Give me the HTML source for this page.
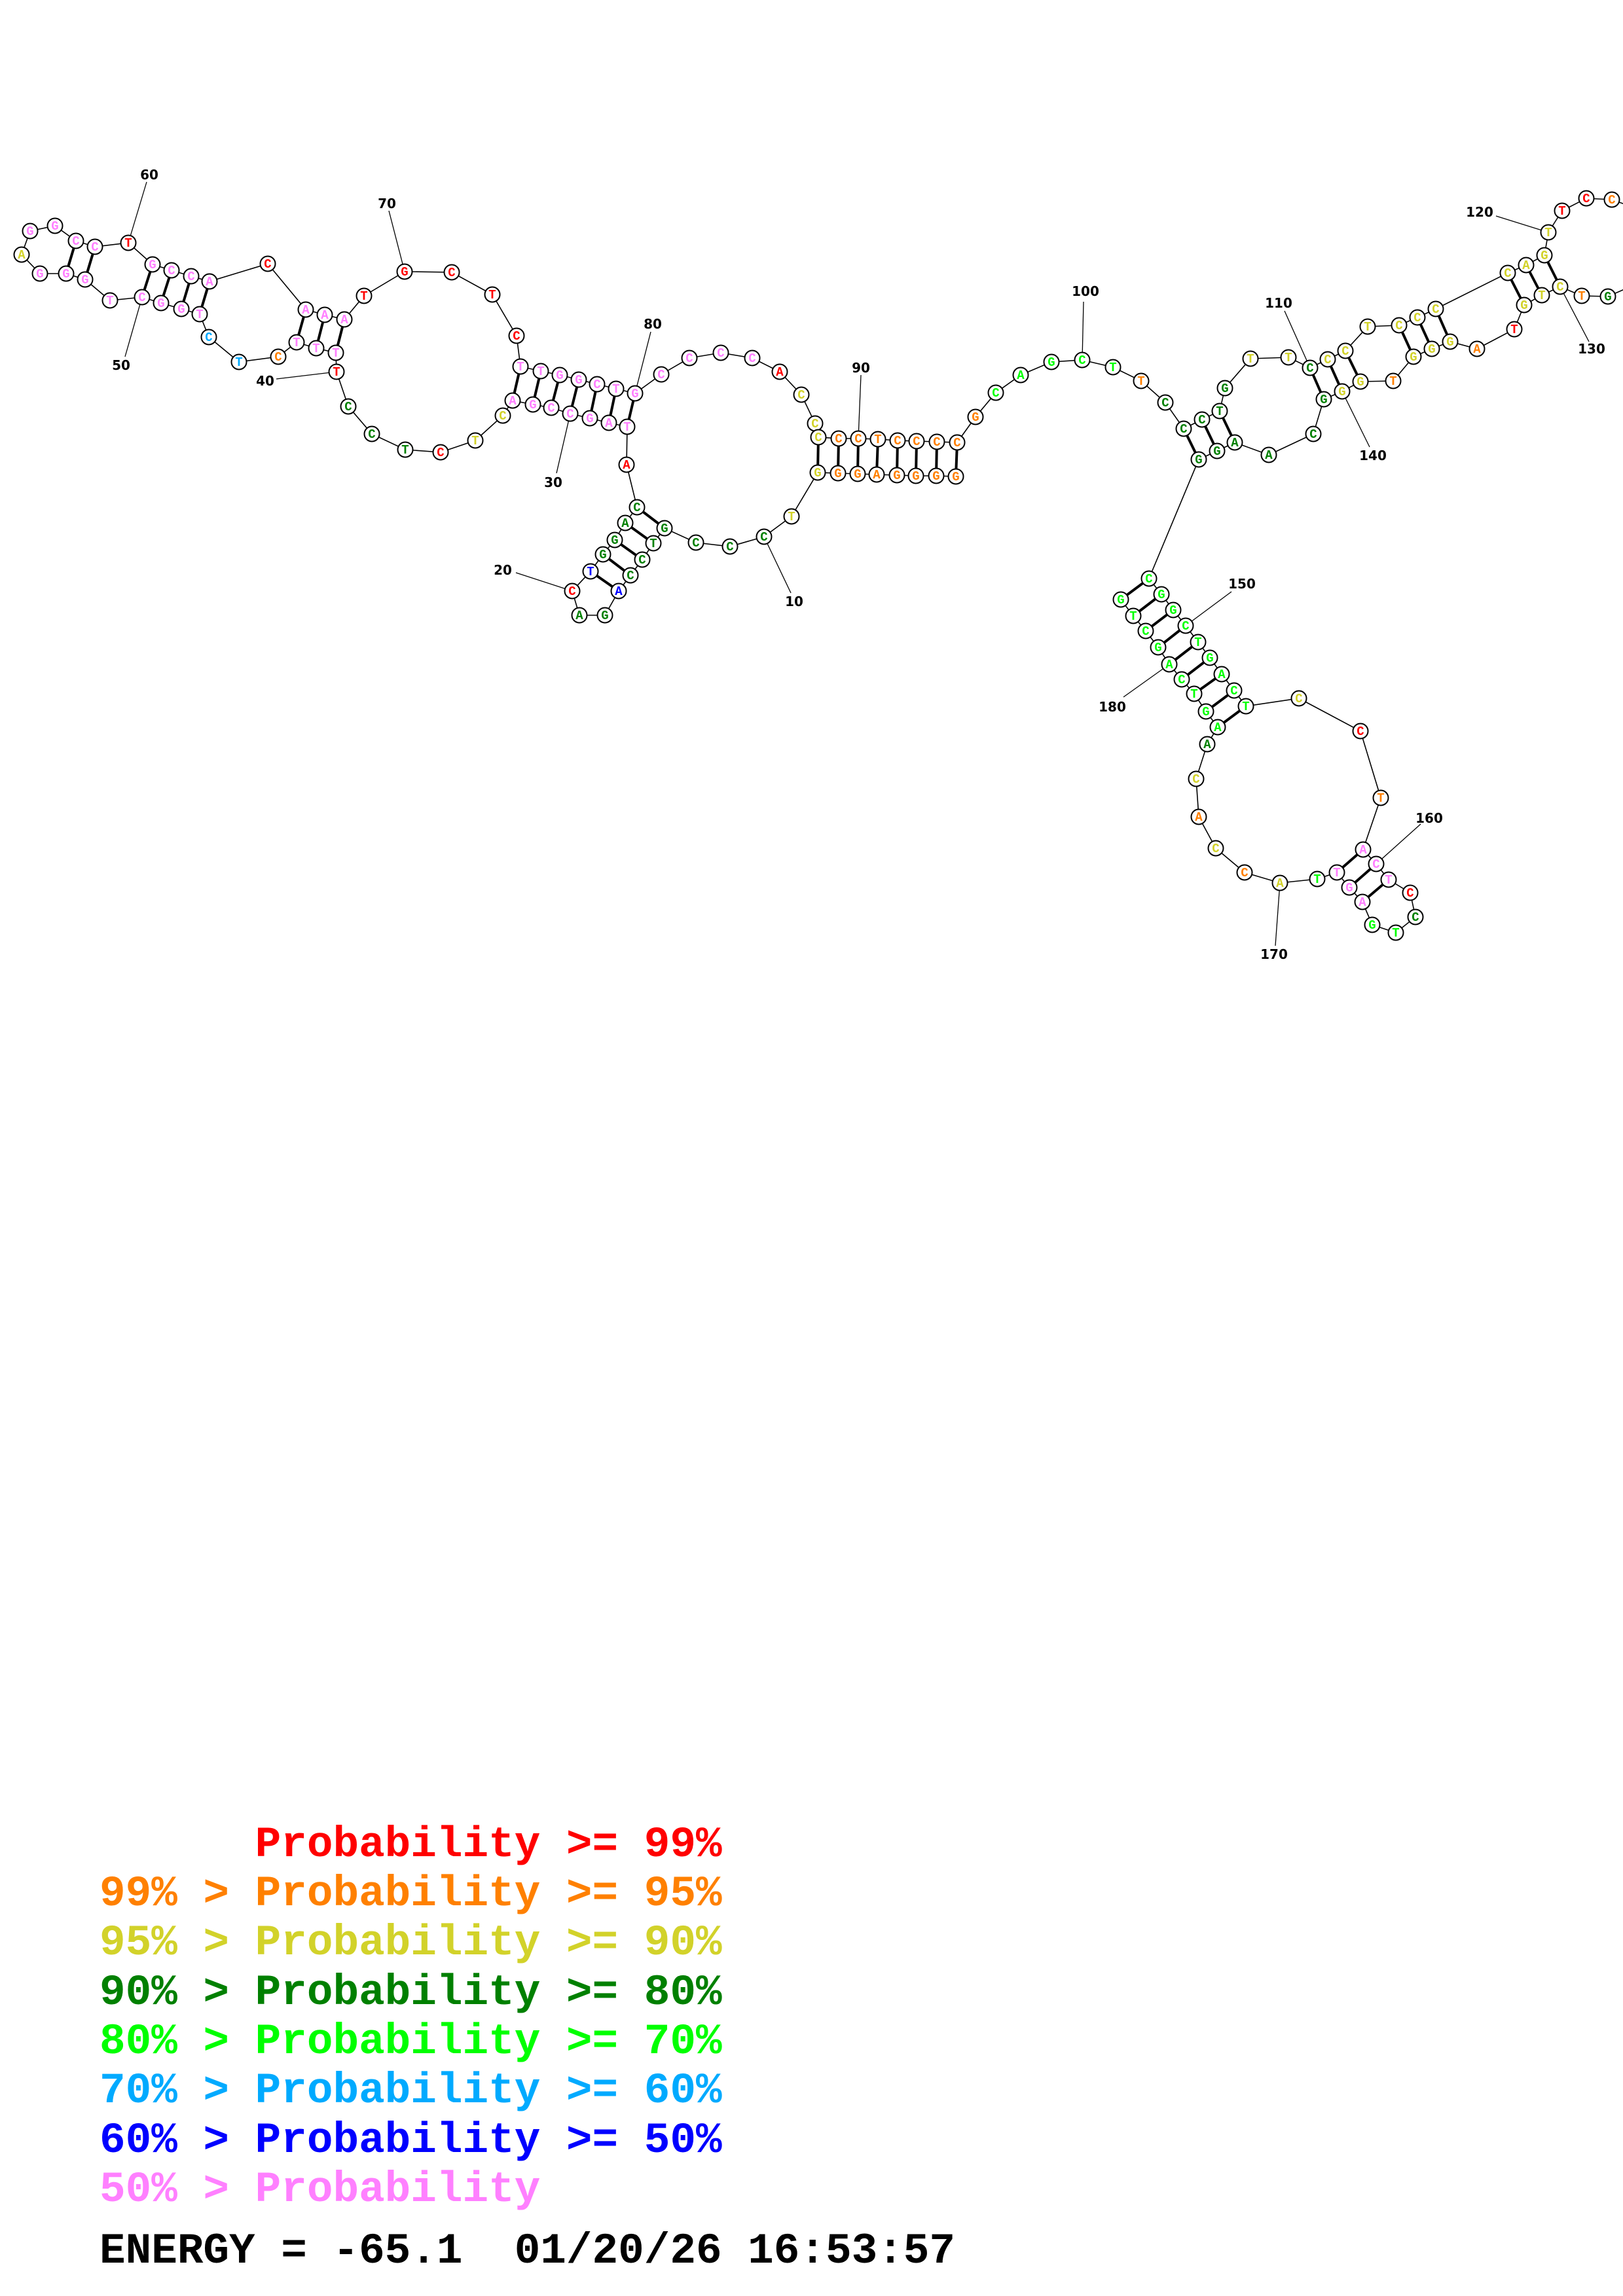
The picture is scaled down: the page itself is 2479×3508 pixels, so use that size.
<!DOCTYPE html>
<html><head><meta charset="utf-8"><style>
html,body{margin:0;padding:0;background:#fff;}
svg{display:block;}
.bb{fill:none;stroke:#000;stroke-width:1.6}
.pr line{stroke:#000;stroke-width:4}
.nd circle{fill:#fff;stroke:#000;stroke-width:2}
.nd text{font-family:"Liberation Mono",monospace;font-weight:bold;font-size:19px;text-anchor:middle}
.lb{font-family:"DejaVu Sans","Liberation Sans",sans-serif;font-weight:bold;font-size:20px;text-anchor:middle}
.ll{stroke:#000;stroke-width:1.3}
.o{fill:#ff8000}.y{fill:#d2d22a}.k{fill:#008000}.g{fill:#00ff00}.r{fill:#ff0000}.b{fill:#0000ff}.c{fill:#00aaff}.p{fill:#ff80ff}
.leg{font-family:"Liberation Mono",monospace;font-weight:bold;font-size:66px;white-space:pre}
</style></head><body>
<svg width="2479" height="3508" viewBox="0 0 2479 3508" xmlns="http://www.w3.org/2000/svg">
<polyline class="bb" points="1460,728 1430,727 1399,727 1370,726 1339,725 1310,724 1280,723 1249,722 1209,789 1167,820 1115,835 1063,829 1015,807 998,830 981,855 963,879 945,903 924,940 885,940 874,903 902,873 921,847 939,825 955,799 973,775 957,710 958,652 930,646 901,639 871,632 842,623 814,618 783,612 768,635 726,673 673,691 619,687 568,663 532,621 514,568 513,539 483,532 453,523 425,545 365,553 319,515 305,480 277,472 246,463 217,454 168,459 130,427 101,418 61,418 33,389 46,353 84,345 116,368 145,377 196,371 233,404 262,413 292,422 320,430 409,403 467,473 496,481 526,488 556,452 618,415 690,416 752,450 789,513 795,560 826,567 855,573 884,580 912,587 941,594 970,601 1010,572 1053,547 1101,539 1149,547 1191,568 1224,603 1245,647 1250,668 1281,670 1311,670 1341,671 1371,673 1400,674 1431,675 1462,676 1490,637 1521,600 1559,573 1606,553 1653,550 1700,561 1743,582 1780,615 1808,655 1836,641 1863,628 1871,593 1910,548 1968,546 2001,562 2028,549 2055,536 2089,499 2137,497 2165,485 2193,472 2303,417 2331,405 2359,390 2365,355 2386,322 2423,303 2462,305 2490,315"/>
<polyline class="bb" points="2490,438 2456,453 2416,452 2383,438 2355,451 2328,466 2313,503 2256,533 2215,522 2187,533 2159,545 2128,582 2078,583 2050,598 2022,610 2006,663 1938,695 1886,676 1859,689 1831,702 1755,884 1774,908 1792,932 1811,956 1830,981 1848,1005 1866,1030 1885,1055 1903,1079 1984,1067 2078,1117 2109,1219 2082,1298 2102,1320 2121,1344 2154,1364 2162,1401 2132,1425 2096,1413 2081,1378 2061,1356 2042,1333 2012,1343 1955,1349 1901,1333 1857,1296 1831,1248 1827,1190 1844,1137 1860,1111 1842,1087 1824,1060 1805,1038 1786,1015 1769,989 1750,964 1731,941 1712,916"/>
<g class="pr">
<line x1="1015" y1="807" x2="973" y2="775"/><line x1="998" y1="830" x2="955" y2="799"/><line x1="981" y1="855" x2="939" y2="825"/><line x1="963" y1="879" x2="921" y2="847"/><line x1="945" y1="903" x2="902" y2="873"/>
<line x1="958" y1="652" x2="970" y2="601"/><line x1="930" y1="646" x2="941" y2="594"/><line x1="901" y1="639" x2="912" y2="587"/><line x1="871" y1="632" x2="884" y2="580"/><line x1="842" y1="623" x2="855" y2="573"/><line x1="814" y1="618" x2="826" y2="567"/><line x1="783" y1="612" x2="795" y2="560"/>
<line x1="1460" y1="728" x2="1462" y2="676"/><line x1="1430" y1="727" x2="1431" y2="675"/><line x1="1399" y1="727" x2="1400" y2="674"/><line x1="1370" y1="726" x2="1371" y2="673"/><line x1="1339" y1="725" x2="1341" y2="671"/><line x1="1310" y1="724" x2="1311" y2="670"/><line x1="1280" y1="723" x2="1281" y2="670"/><line x1="1249" y1="722" x2="1250" y2="668"/>
<line x1="513" y1="539" x2="526" y2="488"/><line x1="483" y1="532" x2="496" y2="481"/><line x1="453" y1="523" x2="467" y2="473"/>
<line x1="305" y1="480" x2="320" y2="430"/><line x1="277" y1="472" x2="292" y2="422"/><line x1="246" y1="463" x2="262" y2="413"/><line x1="217" y1="454" x2="233" y2="404"/>
<line x1="130" y1="427" x2="145" y2="377"/><line x1="101" y1="418" x2="116" y2="368"/>
<line x1="1808" y1="655" x2="1831" y2="702"/><line x1="1836" y1="641" x2="1859" y2="689"/><line x1="1863" y1="628" x2="1886" y2="676"/>
<line x1="2001" y1="562" x2="2022" y2="610"/><line x1="2028" y1="549" x2="2050" y2="598"/><line x1="2055" y1="536" x2="2078" y2="583"/>
<line x1="2137" y1="497" x2="2159" y2="545"/><line x1="2165" y1="485" x2="2187" y2="533"/><line x1="2193" y1="472" x2="2215" y2="522"/>
<line x1="2303" y1="417" x2="2328" y2="466"/><line x1="2331" y1="405" x2="2355" y2="451"/><line x1="2359" y1="390" x2="2383" y2="438"/>
<line x1="1755" y1="884" x2="1712" y2="916"/><line x1="1774" y1="908" x2="1731" y2="941"/><line x1="1792" y1="932" x2="1750" y2="964"/><line x1="1811" y1="956" x2="1769" y2="989"/><line x1="1830" y1="981" x2="1786" y2="1015"/><line x1="1848" y1="1005" x2="1805" y2="1038"/><line x1="1866" y1="1030" x2="1824" y2="1060"/><line x1="1885" y1="1055" x2="1842" y2="1087"/><line x1="1903" y1="1079" x2="1860" y2="1111"/>
<line x1="2082" y1="1298" x2="2042" y2="1333"/><line x1="2102" y1="1320" x2="2061" y2="1356"/><line x1="2121" y1="1344" x2="2081" y2="1378"/>
</g>
<g>
<line class="ll" x1="1208" y1="906" x2="1167" y2="820"/><line class="ll" x1="788" y1="875" x2="874" y2="903"/><line class="ll" x1="850" y1="723" x2="871" y2="632"/><line class="ll" x1="422" y1="579" x2="514" y2="568"/><line class="ll" x1="191" y1="545" x2="217" y2="454"/><line class="ll" x1="224" y1="278" x2="196" y2="371"/><line class="ll" x1="594" y1="322" x2="618" y2="415"/><line class="ll" x1="994" y1="507" x2="970" y2="601"/><line class="ll" x1="1315" y1="573" x2="1311" y2="670"/><line class="ll" x1="1655" y1="461" x2="1653" y2="550"/><line class="ll" x1="1962" y1="475" x2="2001" y2="562"/><line class="ll" x1="2285" y1="330" x2="2365" y2="355"/><line class="ll" x1="2427" y1="522" x2="2383" y2="438"/><line class="ll" x1="2092" y1="683" x2="2050" y2="598"/><line class="ll" x1="1881" y1="904" x2="1811" y2="956"/><line class="ll" x1="2170" y1="1259" x2="2102" y2="1320"/><line class="ll" x1="1948" y1="1445" x2="1955" y2="1349"/><line class="ll" x1="1716" y1="1065" x2="1786" y2="1015"/>
</g>
<g>
<text class="lb" x="1213" y="926">10</text><text class="lb" x="768" y="878">20</text><text class="lb" x="845" y="744">30</text><text class="lb" x="405" y="589">40</text><text class="lb" x="185" y="565">50</text><text class="lb" x="228" y="274">60</text><text class="lb" x="591" y="318">70</text><text class="lb" x="997" y="502">80</text><text class="lb" x="1315" y="569">90</text><text class="lb" x="1658" y="452">100</text><text class="lb" x="1953" y="470">110</text><text class="lb" x="2260" y="331">120</text><text class="lb" x="2431" y="540">130</text><text class="lb" x="2097" y="703">140</text><text class="lb" x="1897" y="899">150</text><text class="lb" x="2183" y="1257">160</text><text class="lb" x="1946" y="1465">170</text><text class="lb" x="1699" y="1087">180</text>
</g>
<g class="nd">
<circle cx="1460" cy="728" r="11.5"/><text x="1460" y="734" class="o">G</text>
<circle cx="1430" cy="727" r="11.5"/><text x="1430" y="733" class="o">G</text>
<circle cx="1399" cy="727" r="11.5"/><text x="1399" y="733" class="o">G</text>
<circle cx="1370" cy="726" r="11.5"/><text x="1370" y="732" class="o">G</text>
<circle cx="1339" cy="725" r="11.5"/><text x="1339" y="731" class="o">A</text>
<circle cx="1310" cy="724" r="11.5"/><text x="1310" y="730" class="o">G</text>
<circle cx="1280" cy="723" r="11.5"/><text x="1280" y="729" class="o">G</text>
<circle cx="1249" cy="722" r="11.5"/><text x="1249" y="728" class="y">G</text>
<circle cx="1209" cy="789" r="11.5"/><text x="1209" y="795" class="y">T</text>
<circle cx="1167" cy="820" r="11.5"/><text x="1167" y="826" class="k">C</text>
<circle cx="1115" cy="835" r="11.5"/><text x="1115" y="841" class="k">C</text>
<circle cx="1063" cy="829" r="11.5"/><text x="1063" y="835" class="k">C</text>
<circle cx="1015" cy="807" r="11.5"/><text x="1015" y="813" class="k">G</text>
<circle cx="998" cy="830" r="11.5"/><text x="998" y="836" class="k">T</text>
<circle cx="981" cy="855" r="11.5"/><text x="981" y="861" class="k">C</text>
<circle cx="963" cy="879" r="11.5"/><text x="963" y="885" class="k">C</text>
<circle cx="945" cy="903" r="11.5"/><text x="945" y="909" class="b">A</text>
<circle cx="924" cy="940" r="11.5"/><text x="924" y="946" class="k">G</text>
<circle cx="885" cy="940" r="11.5"/><text x="885" y="946" class="k">A</text>
<circle cx="874" cy="903" r="11.5"/><text x="874" y="909" class="r">C</text>
<circle cx="902" cy="873" r="11.5"/><text x="902" y="879" class="b">T</text>
<circle cx="921" cy="847" r="11.5"/><text x="921" y="853" class="k">G</text>
<circle cx="939" cy="825" r="11.5"/><text x="939" y="831" class="k">G</text>
<circle cx="955" cy="799" r="11.5"/><text x="955" y="805" class="k">A</text>
<circle cx="973" cy="775" r="11.5"/><text x="973" y="781" class="k">C</text>
<circle cx="957" cy="710" r="11.5"/><text x="957" y="716" class="r">A</text>
<circle cx="958" cy="652" r="11.5"/><text x="958" y="658" class="p">T</text>
<circle cx="930" cy="646" r="11.5"/><text x="930" y="652" class="p">A</text>
<circle cx="901" cy="639" r="11.5"/><text x="901" y="645" class="p">G</text>
<circle cx="871" cy="632" r="11.5"/><text x="871" y="638" class="p">C</text>
<circle cx="842" cy="623" r="11.5"/><text x="842" y="629" class="p">C</text>
<circle cx="814" cy="618" r="11.5"/><text x="814" y="624" class="p">G</text>
<circle cx="783" cy="612" r="11.5"/><text x="783" y="618" class="p">A</text>
<circle cx="768" cy="635" r="11.5"/><text x="768" y="641" class="y">C</text>
<circle cx="726" cy="673" r="11.5"/><text x="726" y="679" class="y">T</text>
<circle cx="673" cy="691" r="11.5"/><text x="673" y="697" class="r">C</text>
<circle cx="619" cy="687" r="11.5"/><text x="619" y="693" class="k">T</text>
<circle cx="568" cy="663" r="11.5"/><text x="568" y="669" class="k">C</text>
<circle cx="532" cy="621" r="11.5"/><text x="532" y="627" class="k">C</text>
<circle cx="514" cy="568" r="11.5"/><text x="514" y="574" class="r">T</text>
<circle cx="513" cy="539" r="11.5"/><text x="513" y="545" class="p">T</text>
<circle cx="483" cy="532" r="11.5"/><text x="483" y="538" class="p">T</text>
<circle cx="453" cy="523" r="11.5"/><text x="453" y="529" class="p">T</text>
<circle cx="425" cy="545" r="11.5"/><text x="425" y="551" class="o">C</text>
<circle cx="365" cy="553" r="11.5"/><text x="365" y="559" class="c">T</text>
<circle cx="319" cy="515" r="11.5"/><text x="319" y="521" class="c">C</text>
<circle cx="305" cy="480" r="11.5"/><text x="305" y="486" class="p">T</text>
<circle cx="277" cy="472" r="11.5"/><text x="277" y="478" class="p">G</text>
<circle cx="246" cy="463" r="11.5"/><text x="246" y="469" class="p">G</text>
<circle cx="217" cy="454" r="11.5"/><text x="217" y="460" class="p">C</text>
<circle cx="168" cy="459" r="11.5"/><text x="168" y="465" class="p">T</text>
<circle cx="130" cy="427" r="11.5"/><text x="130" y="433" class="p">G</text>
<circle cx="101" cy="418" r="11.5"/><text x="101" y="424" class="p">G</text>
<circle cx="61" cy="418" r="11.5"/><text x="61" y="424" class="p">G</text>
<circle cx="33" cy="389" r="11.5"/><text x="33" y="395" class="y">A</text>
<circle cx="46" cy="353" r="11.5"/><text x="46" y="359" class="p">G</text>
<circle cx="84" cy="345" r="11.5"/><text x="84" y="351" class="p">G</text>
<circle cx="116" cy="368" r="11.5"/><text x="116" y="374" class="p">C</text>
<circle cx="145" cy="377" r="11.5"/><text x="145" y="383" class="p">C</text>
<circle cx="196" cy="371" r="11.5"/><text x="196" y="377" class="r">T</text>
<circle cx="233" cy="404" r="11.5"/><text x="233" y="410" class="p">G</text>
<circle cx="262" cy="413" r="11.5"/><text x="262" y="419" class="p">C</text>
<circle cx="292" cy="422" r="11.5"/><text x="292" y="428" class="p">C</text>
<circle cx="320" cy="430" r="11.5"/><text x="320" y="436" class="p">A</text>
<circle cx="409" cy="403" r="11.5"/><text x="409" y="409" class="r">C</text>
<circle cx="467" cy="473" r="11.5"/><text x="467" y="479" class="p">A</text>
<circle cx="496" cy="481" r="11.5"/><text x="496" y="487" class="p">A</text>
<circle cx="526" cy="488" r="11.5"/><text x="526" y="494" class="p">A</text>
<circle cx="556" cy="452" r="11.5"/><text x="556" y="458" class="r">T</text>
<circle cx="618" cy="415" r="11.5"/><text x="618" y="421" class="r">G</text>
<circle cx="690" cy="416" r="11.5"/><text x="690" y="422" class="r">C</text>
<circle cx="752" cy="450" r="11.5"/><text x="752" y="456" class="r">T</text>
<circle cx="789" cy="513" r="11.5"/><text x="789" y="519" class="r">C</text>
<circle cx="795" cy="560" r="11.5"/><text x="795" y="566" class="p">T</text>
<circle cx="826" cy="567" r="11.5"/><text x="826" y="573" class="p">T</text>
<circle cx="855" cy="573" r="11.5"/><text x="855" y="579" class="p">G</text>
<circle cx="884" cy="580" r="11.5"/><text x="884" y="586" class="p">G</text>
<circle cx="912" cy="587" r="11.5"/><text x="912" y="593" class="p">C</text>
<circle cx="941" cy="594" r="11.5"/><text x="941" y="600" class="p">T</text>
<circle cx="970" cy="601" r="11.5"/><text x="970" y="607" class="p">G</text>
<circle cx="1010" cy="572" r="11.5"/><text x="1010" y="578" class="p">C</text>
<circle cx="1053" cy="547" r="11.5"/><text x="1053" y="553" class="p">C</text>
<circle cx="1101" cy="539" r="11.5"/><text x="1101" y="545" class="p">C</text>
<circle cx="1149" cy="547" r="11.5"/><text x="1149" y="553" class="p">C</text>
<circle cx="1191" cy="568" r="11.5"/><text x="1191" y="574" class="r">A</text>
<circle cx="1224" cy="603" r="11.5"/><text x="1224" y="609" class="y">C</text>
<circle cx="1245" cy="647" r="11.5"/><text x="1245" y="653" class="y">C</text>
<circle cx="1250" cy="668" r="11.5"/><text x="1250" y="674" class="y">C</text>
<circle cx="1281" cy="670" r="11.5"/><text x="1281" y="676" class="o">C</text>
<circle cx="1311" cy="670" r="11.5"/><text x="1311" y="676" class="o">C</text>
<circle cx="1341" cy="671" r="11.5"/><text x="1341" y="677" class="o">T</text>
<circle cx="1371" cy="673" r="11.5"/><text x="1371" y="679" class="o">C</text>
<circle cx="1400" cy="674" r="11.5"/><text x="1400" y="680" class="o">C</text>
<circle cx="1431" cy="675" r="11.5"/><text x="1431" y="681" class="o">C</text>
<circle cx="1462" cy="676" r="11.5"/><text x="1462" y="682" class="o">C</text>
<circle cx="1490" cy="637" r="11.5"/><text x="1490" y="643" class="o">G</text>
<circle cx="1521" cy="600" r="11.5"/><text x="1521" y="606" class="g">C</text>
<circle cx="1559" cy="573" r="11.5"/><text x="1559" y="579" class="g">A</text>
<circle cx="1606" cy="553" r="11.5"/><text x="1606" y="559" class="g">G</text>
<circle cx="1653" cy="550" r="11.5"/><text x="1653" y="556" class="g">C</text>
<circle cx="1700" cy="561" r="11.5"/><text x="1700" y="567" class="g">T</text>
<circle cx="1743" cy="582" r="11.5"/><text x="1743" y="588" class="o">T</text>
<circle cx="1780" cy="615" r="11.5"/><text x="1780" y="621" class="k">C</text>
<circle cx="1808" cy="655" r="11.5"/><text x="1808" y="661" class="k">C</text>
<circle cx="1836" cy="641" r="11.5"/><text x="1836" y="647" class="k">C</text>
<circle cx="1863" cy="628" r="11.5"/><text x="1863" y="634" class="k">T</text>
<circle cx="1871" cy="593" r="11.5"/><text x="1871" y="599" class="k">G</text>
<circle cx="1910" cy="548" r="11.5"/><text x="1910" y="554" class="y">T</text>
<circle cx="1968" cy="546" r="11.5"/><text x="1968" y="552" class="y">T</text>
<circle cx="2001" cy="562" r="11.5"/><text x="2001" y="568" class="k">C</text>
<circle cx="2028" cy="549" r="11.5"/><text x="2028" y="555" class="y">C</text>
<circle cx="2055" cy="536" r="11.5"/><text x="2055" y="542" class="y">C</text>
<circle cx="2089" cy="499" r="11.5"/><text x="2089" y="505" class="y">T</text>
<circle cx="2137" cy="497" r="11.5"/><text x="2137" y="503" class="y">C</text>
<circle cx="2165" cy="485" r="11.5"/><text x="2165" y="491" class="y">C</text>
<circle cx="2193" cy="472" r="11.5"/><text x="2193" y="478" class="y">C</text>
<circle cx="2303" cy="417" r="11.5"/><text x="2303" y="423" class="y">C</text>
<circle cx="2331" cy="405" r="11.5"/><text x="2331" y="411" class="y">A</text>
<circle cx="2359" cy="390" r="11.5"/><text x="2359" y="396" class="y">G</text>
<circle cx="2365" cy="355" r="11.5"/><text x="2365" y="361" class="y">T</text>
<circle cx="2386" cy="322" r="11.5"/><text x="2386" y="328" class="r">T</text>
<circle cx="2423" cy="303" r="11.5"/><text x="2423" y="309" class="r">C</text>
<circle cx="2462" cy="305" r="11.5"/><text x="2462" y="311" class="o">C</text>
<circle cx="2456" cy="453" r="11.5"/><text x="2456" y="459" class="k">G</text>
<circle cx="2416" cy="452" r="11.5"/><text x="2416" y="458" class="o">T</text>
<circle cx="2383" cy="438" r="11.5"/><text x="2383" y="444" class="y">C</text>
<circle cx="2355" cy="451" r="11.5"/><text x="2355" y="457" class="y">T</text>
<circle cx="2328" cy="466" r="11.5"/><text x="2328" y="472" class="y">G</text>
<circle cx="2313" cy="503" r="11.5"/><text x="2313" y="509" class="r">T</text>
<circle cx="2256" cy="533" r="11.5"/><text x="2256" y="539" class="o">A</text>
<circle cx="2215" cy="522" r="11.5"/><text x="2215" y="528" class="y">G</text>
<circle cx="2187" cy="533" r="11.5"/><text x="2187" y="539" class="y">G</text>
<circle cx="2159" cy="545" r="11.5"/><text x="2159" y="551" class="y">G</text>
<circle cx="2128" cy="582" r="11.5"/><text x="2128" y="588" class="o">T</text>
<circle cx="2078" cy="583" r="11.5"/><text x="2078" y="589" class="y">G</text>
<circle cx="2050" cy="598" r="11.5"/><text x="2050" y="604" class="y">G</text>
<circle cx="2022" cy="610" r="11.5"/><text x="2022" y="616" class="k">G</text>
<circle cx="2006" cy="663" r="11.5"/><text x="2006" y="669" class="k">C</text>
<circle cx="1938" cy="695" r="11.5"/><text x="1938" y="701" class="k">A</text>
<circle cx="1886" cy="676" r="11.5"/><text x="1886" y="682" class="k">A</text>
<circle cx="1859" cy="689" r="11.5"/><text x="1859" y="695" class="k">G</text>
<circle cx="1831" cy="702" r="11.5"/><text x="1831" y="708" class="k">G</text>
<circle cx="1755" cy="884" r="11.5"/><text x="1755" y="890" class="g">C</text>
<circle cx="1774" cy="908" r="11.5"/><text x="1774" y="914" class="g">G</text>
<circle cx="1792" cy="932" r="11.5"/><text x="1792" y="938" class="g">G</text>
<circle cx="1811" cy="956" r="11.5"/><text x="1811" y="962" class="g">C</text>
<circle cx="1830" cy="981" r="11.5"/><text x="1830" y="987" class="g">T</text>
<circle cx="1848" cy="1005" r="11.5"/><text x="1848" y="1011" class="g">G</text>
<circle cx="1866" cy="1030" r="11.5"/><text x="1866" y="1036" class="g">A</text>
<circle cx="1885" cy="1055" r="11.5"/><text x="1885" y="1061" class="g">C</text>
<circle cx="1903" cy="1079" r="11.5"/><text x="1903" y="1085" class="g">T</text>
<circle cx="1984" cy="1067" r="11.5"/><text x="1984" y="1073" class="y">C</text>
<circle cx="2078" cy="1117" r="11.5"/><text x="2078" y="1123" class="r">C</text>
<circle cx="2109" cy="1219" r="11.5"/><text x="2109" y="1225" class="o">T</text>
<circle cx="2082" cy="1298" r="11.5"/><text x="2082" y="1304" class="p">A</text>
<circle cx="2102" cy="1320" r="11.5"/><text x="2102" y="1326" class="p">C</text>
<circle cx="2121" cy="1344" r="11.5"/><text x="2121" y="1350" class="p">T</text>
<circle cx="2154" cy="1364" r="11.5"/><text x="2154" y="1370" class="r">C</text>
<circle cx="2162" cy="1401" r="11.5"/><text x="2162" y="1407" class="k">C</text>
<circle cx="2132" cy="1425" r="11.5"/><text x="2132" y="1431" class="g">T</text>
<circle cx="2096" cy="1413" r="11.5"/><text x="2096" y="1419" class="g">G</text>
<circle cx="2081" cy="1378" r="11.5"/><text x="2081" y="1384" class="p">A</text>
<circle cx="2061" cy="1356" r="11.5"/><text x="2061" y="1362" class="p">G</text>
<circle cx="2042" cy="1333" r="11.5"/><text x="2042" y="1339" class="p">T</text>
<circle cx="2012" cy="1343" r="11.5"/><text x="2012" y="1349" class="g">T</text>
<circle cx="1955" cy="1349" r="11.5"/><text x="1955" y="1355" class="y">A</text>
<circle cx="1901" cy="1333" r="11.5"/><text x="1901" y="1339" class="o">C</text>
<circle cx="1857" cy="1296" r="11.5"/><text x="1857" y="1302" class="y">C</text>
<circle cx="1831" cy="1248" r="11.5"/><text x="1831" y="1254" class="o">A</text>
<circle cx="1827" cy="1190" r="11.5"/><text x="1827" y="1196" class="y">C</text>
<circle cx="1844" cy="1137" r="11.5"/><text x="1844" y="1143" class="k">A</text>
<circle cx="1860" cy="1111" r="11.5"/><text x="1860" y="1117" class="g">A</text>
<circle cx="1842" cy="1087" r="11.5"/><text x="1842" y="1093" class="g">G</text>
<circle cx="1824" cy="1060" r="11.5"/><text x="1824" y="1066" class="g">T</text>
<circle cx="1805" cy="1038" r="11.5"/><text x="1805" y="1044" class="g">C</text>
<circle cx="1786" cy="1015" r="11.5"/><text x="1786" y="1021" class="g">A</text>
<circle cx="1769" cy="989" r="11.5"/><text x="1769" y="995" class="g">G</text>
<circle cx="1750" cy="964" r="11.5"/><text x="1750" y="970" class="g">C</text>
<circle cx="1731" cy="941" r="11.5"/><text x="1731" y="947" class="g">T</text>
<circle cx="1712" cy="916" r="11.5"/><text x="1712" y="922" class="g">G</text>
</g>
<text class="leg r" x="152" y="2836">      Probability &gt;= 99%</text>
<text class="leg o" x="152" y="2911">99% &gt; Probability &gt;= 95%</text>
<text class="leg y" x="152" y="2986">95% &gt; Probability &gt;= 90%</text>
<text class="leg k" x="152" y="3062">90% &gt; Probability &gt;= 80%</text>
<text class="leg g" x="152" y="3137">80% &gt; Probability &gt;= 70%</text>
<text class="leg c" x="152" y="3212">70% &gt; Probability &gt;= 60%</text>
<text class="leg b" x="152" y="3288">60% &gt; Probability &gt;= 50%</text>
<text class="leg p" x="152" y="3363">50% &gt; Probability</text>
<text class="leg" x="152" y="3457" fill="#000">ENERGY = -65.1  01/20/26 16:53:57</text>
</svg>
</body></html>
